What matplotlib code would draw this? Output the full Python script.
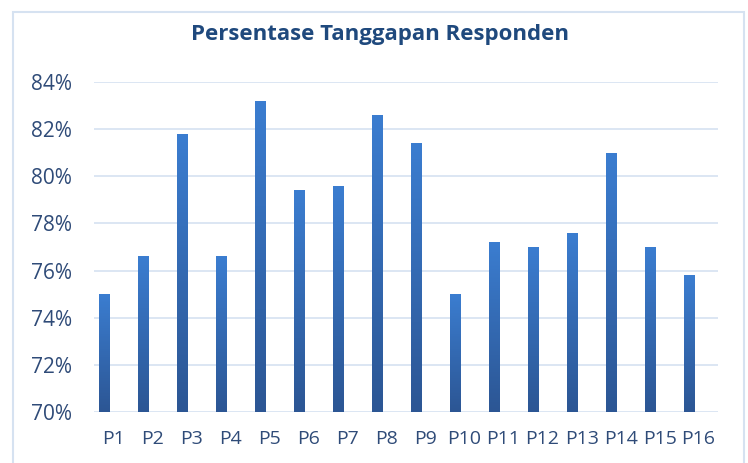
import matplotlib
matplotlib.use("Agg")
import matplotlib.pyplot as plt
from matplotlib.patches import Rectangle
from matplotlib.colors import LinearSegmentedColormap
from matplotlib.ticker import FuncFormatter
import numpy as np

plt.rcParams['font.family'] = ['Open Sans', 'DejaVu Sans']

labels = ['P1', 'P2', 'P3', 'P4', 'P5', 'P6', 'P7', 'P8',
          'P9', 'P10', 'P11', 'P12', 'P13', 'P14', 'P15', 'P16']
values = [75.0, 76.6, 81.8, 76.6, 83.2, 79.4, 79.6, 82.6,
          81.4, 75.0, 77.2, 77.0, 77.6, 81.0, 77.0, 75.8]
title = 'Persentase Tanggapan Responden'

fig = plt.figure(figsize=(7.48, 4.63), dpi=100)
ax = fig.add_axes([0.1257, 0.110, 0.8343, 0.713])

# outer chart frame
fig.patches.append(Rectangle((13 / 748, -0.05), (744 - 13) / 748, 1.05 - 12 / 463,
                             transform=fig.transFigure, fill=False,
                             edgecolor='#D6E2F1', linewidth=1.5))

x = np.arange(len(labels))
bars = ax.bar(x - 0.25, values, width=0.26, bottom=0, color='none')

grad = LinearSegmentedColormap.from_list('g', ['#2C5694', '#3B7DD0'])
for b in bars:
    bx, bw, bh = b.get_x(), b.get_width(), b.get_height()
    im = ax.imshow(np.linspace(0, 1, 100).reshape(-1, 1), cmap=grad, origin='lower',
                   extent=[bx, bx + bw, 70, bh], aspect='auto', zorder=2)
    im.set_clip_path(b)

ax.set_xlim(-0.5, len(labels) - 0.5)
ax.set_ylim(70, 84)
ax.set_yticks(np.arange(70, 85, 2))
ax.yaxis.set_major_formatter(FuncFormatter(lambda v, p: f'{v:.0f}%'))
ax.set_xticks(x)
ax.set_xticklabels(labels)
ax.grid(axis='y', color='#D9E4F2', linewidth=1.3, zorder=0)
ax.set_axisbelow(True)
for s in ax.spines.values():
    s.set_visible(False)
ax.tick_params(length=0, colors='#2F4B78')
ax.tick_params(axis='x', labelsize=14, pad=13)
ax.tick_params(axis='y', labelsize=15, pad=16)

fig.text(0.508, 0.925, title, ha='center', va='center', fontsize=16,
         fontweight='bold', color='#1F497D')

fig.savefig('out.png', dpi=100)
